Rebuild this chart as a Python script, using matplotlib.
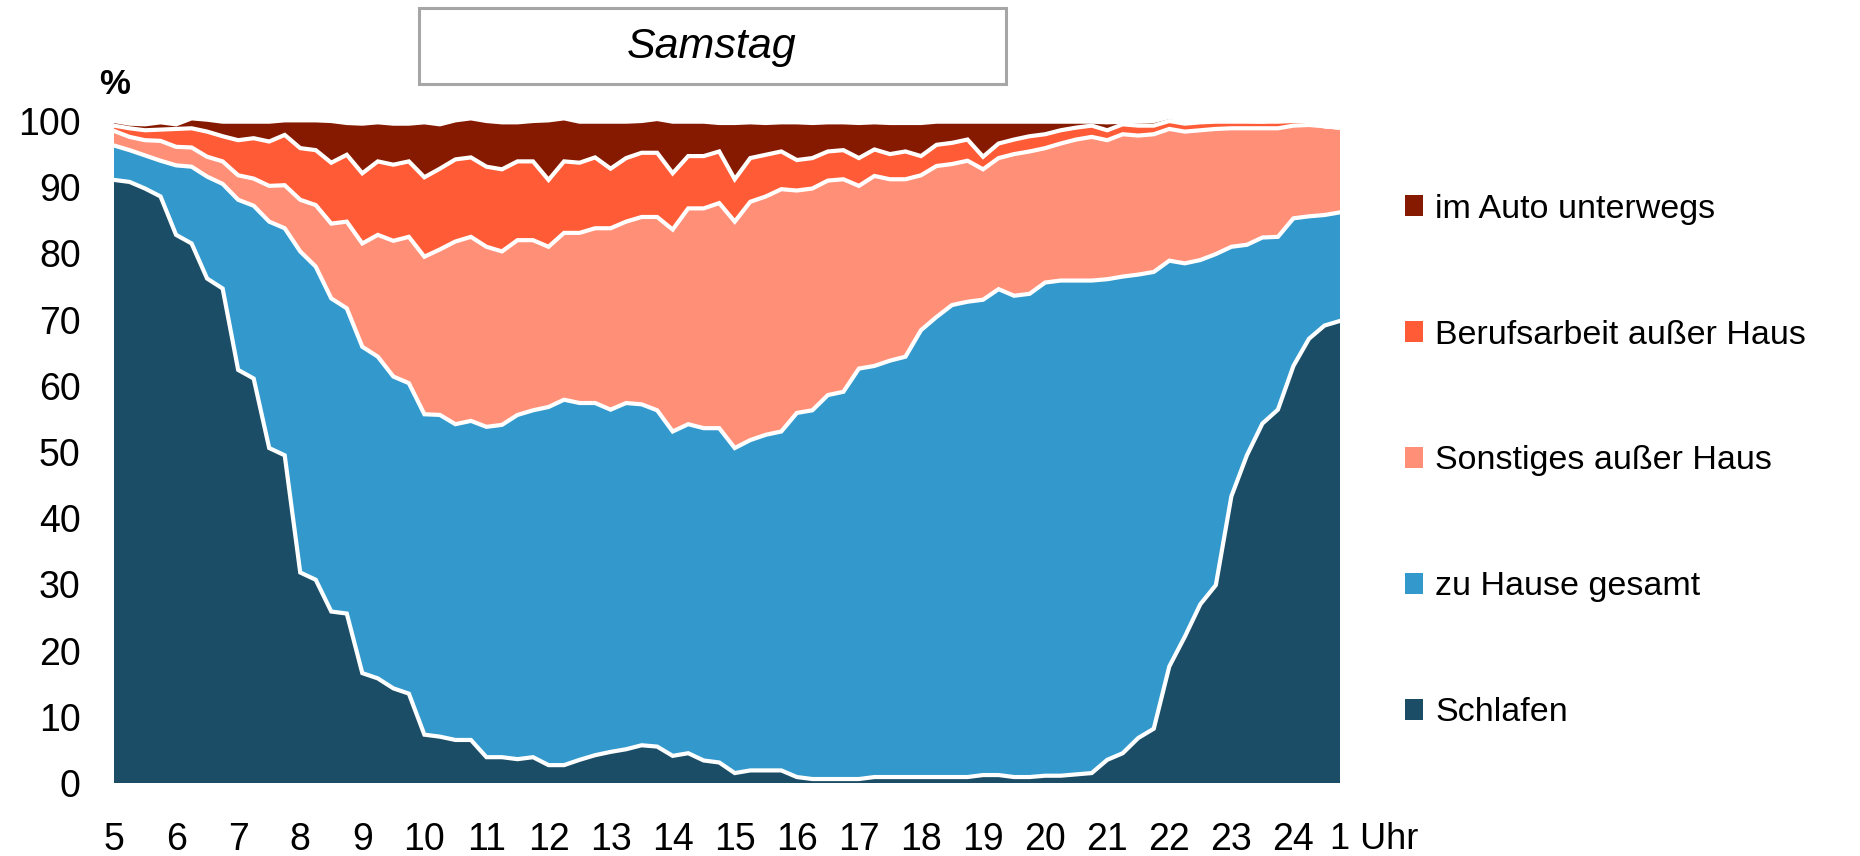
import numpy as np
import matplotlib
matplotlib.use("Agg")
import matplotlib.pyplot as plt
from matplotlib.patches import Patch, Rectangle

plt.rcParams['font.family'] = ['Liberation Sans', 'DejaVu Sans']

# quarter-hour steps from 5:00 to 0:45 (80 values)
zeit = [5 + 0.25 * i for i in range(80)]

schlafen = [91.1, 90.8, 89.8, 88.6, 82.8, 81.5, 76.2, 74.7, 62.4, 61.1,
            50.6, 49.5, 31.8, 30.7, 25.9, 25.6, 16.6, 15.8, 14.3, 13.5,
            7.3, 7.0, 6.5, 6.5, 3.9, 3.9, 3.6, 3.9, 2.7, 2.7,
            3.5, 4.2, 4.7, 5.1, 5.7, 5.5, 4.1, 4.5, 3.4, 3.1,
            1.5, 1.9, 1.9, 1.9, 0.9, 0.6, 0.6, 0.6, 0.6, 0.9,
            0.9, 0.9, 0.9, 0.9, 0.9, 0.9, 1.2, 1.2, 0.9, 0.9,
            1.1, 1.1, 1.3, 1.5, 3.5, 4.5, 6.8, 8.2, 17.6, 22.1,
            27.0, 29.9, 43.3, 49.5, 54.3, 56.4, 63.0, 67.1, 69.1, 69.8]

zu_hause = [5.2, 4.8, 5.0, 5.4, 10.5, 11.6, 15.4, 15.8, 25.7, 26.1,
            34.2, 34.3, 48.5, 47.3, 47.3, 46.1, 49.3, 48.6, 47.1, 46.9,
            48.4, 48.6, 47.7, 48.2, 49.9, 50.2, 52.0, 52.4, 54.1, 55.2,
            53.9, 53.2, 51.7, 52.3, 51.5, 50.8, 49.0, 49.7, 50.2, 50.5,
            49.1, 49.9, 50.7, 51.2, 55.0, 55.7, 58.0, 58.5, 62.0, 62.1,
            62.9, 63.5, 67.5, 69.5, 71.3, 71.8, 71.8, 73.4, 72.7, 73.0,
            74.5, 74.8, 74.6, 74.4, 72.6, 72.0, 70.0, 69.0, 61.3, 56.4,
            52.0, 50.0, 37.7, 31.8, 28.1, 26.1, 22.3, 18.5, 16.7, 16.4]

sonstiges = [2.2, 2.0, 2.3, 3.0, 2.8, 2.9, 3.0, 3.4, 3.7, 4.1,
             5.4, 6.5, 7.8, 9.3, 11.3, 13.1, 15.6, 18.4, 20.5, 22.1,
             23.8, 25.0, 27.6, 27.8, 27.2, 26.2, 26.4, 25.7, 24.2, 25.2,
             25.7, 26.4, 27.4, 27.4, 28.3, 29.2, 30.5, 32.6, 33.2, 34.0,
             34.2, 36.0, 36.0, 36.6, 33.6, 33.5, 32.4, 32.1, 27.6, 28.7,
             27.4, 26.8, 23.4, 22.8, 21.3, 21.3, 19.7, 19.8, 21.4, 21.5,
             20.3, 20.7, 21.3, 21.7, 21.0, 21.5, 21.0, 20.8, 19.9, 19.9,
             19.6, 18.9, 17.9, 17.6, 16.5, 16.4, 14.0, 13.8, 13.4, 12.8]

beruf = [0.8, 1.3, 1.5, 1.7, 2.7, 2.9, 3.8, 3.8, 5.3, 6.1,
         6.7, 7.6, 7.8, 8.3, 9.2, 10.1, 10.6, 11.1, 11.5, 11.4,
         12.0, 12.2, 12.4, 12.0, 12.1, 12.4, 11.9, 11.9, 10.1, 10.8,
         10.6, 10.7, 9.0, 9.6, 9.7, 9.7, 8.5, 7.9, 7.9, 7.8,
         6.4, 6.6, 6.3, 5.7, 4.6, 4.6, 4.4, 4.4, 4.2, 4.0,
         3.8, 4.2, 2.9, 3.2, 3.2, 3.2, 1.9, 2.2, 2.2, 2.3,
         2.1, 2.0, 1.8, 1.7, 1.5, 1.5, 1.5, 1.3, 1.2, 1.2,
         1.2, 1.1, 1.0, 1.0, 1.0, 1.0, 0.7, 0.6, 0.0, 0.0]

auto = [0.7, 0.7, 0.9, 1.1, 0.7, 1.5, 1.8, 2.2, 2.8, 2.5,
        3.0, 2.2, 4.2, 4.5, 6.3, 4.8, 7.5, 5.9, 6.2, 5.7,
        8.3, 6.7, 5.9, 5.9, 6.9, 7.1, 5.9, 6.1, 9.0, 6.5,
        6.2, 5.4, 7.1, 5.5, 4.8, 5.1, 7.8, 5.2, 5.2, 4.3,
        8.5, 5.4, 4.8, 4.4, 5.7, 5.3, 4.4, 4.2, 5.3, 4.1,
        4.7, 4.3, 5.0, 3.5, 3.2, 2.7, 5.3, 3.3, 2.7, 2.2,
        1.9, 1.3, 0.9, 0.6, 1.2, 0.4, 0.6, 0.7, 0.6, 0.4,
        0.1, 0.2, 0.3, 0.1, 0.0, 0.3, 0.3, 0.6, 0.0, 0.0]

namen = ['Schlafen', 'zu Hause gesamt', 'Sonstiges außer Haus',
         'Berufsarbeit außer Haus', 'im Auto unterwegs']
farben = ['#1B4D66', '#3399CC', '#FF8F76', '#FF5B36', '#861A00']
stunden = list(range(5, 25))

fig = plt.figure(figsize=(18.6, 8.56), dpi=100)
ax = fig.add_axes([114 / 1860, 1 - 783 / 856, 1226 / 1860, 662 / 856])

reihen = [schlafen, zu_hause, sonstiges, beruf, auto]
flaechen = ax.stackplot(zeit, *reihen, colors=farben, linewidth=0)
for f in flaechen:
    f.set_clip_on(False)

# white borders between the layers
stufen = np.cumsum(np.array(reihen), axis=0)
for s in stufen:
    ax.plot(zeit, s, color='white', lw=3, solid_joinstyle='miter', clip_on=False)

ax.set_xlim(zeit[0], zeit[-1])
ax.set_ylim(0, 100)
ax.set_xticks(stunden)
ax.set_xticklabels([str(h) for h in stunden])
ax.set_yticks(range(0, 101, 10))
ax.tick_params(axis='both', length=0, labelsize=27)
ax.tick_params(axis='x', pad=28)
ax.tick_params(axis='y', pad=24)
for sp in ax.spines.values():
    sp.set_visible(False)

ax.annotate('1 Uhr', xy=(zeit[-1], 0), xycoords=('data', 'axes fraction'),
            xytext=(-7, -28), textcoords='offset points', ha='left', va='top', fontsize=26)

fig.text(115 / 1860, 1 - 85 / 856, '%', fontsize=25, fontweight='bold', ha='center', va='center')

# title box
fig.patches.append(Rectangle((419 / 1860, 1 - 84 / 856), 587 / 1860, 76 / 856,
                             transform=fig.transFigure, facecolor='white',
                             edgecolor='#A6A6A6', lw=2.2))
fig.text(712 / 1860, 1 - 47 / 856, 'Samstag', fontsize=31, style='italic',
         ha='center', va='center')

griffe = [Patch(facecolor=c, edgecolor='none') for c in farben][::-1]
fig.legend(griffe, namen[::-1], loc='upper left', bbox_to_anchor=(1391 / 1860, 1 - 180 / 856),
           frameon=False, fontsize=24.5, handlelength=0.55, handleheight=0.55,
           handletextpad=0.35, labelspacing=2.79, borderaxespad=0)

fig.savefig('out.png', dpi=100)
